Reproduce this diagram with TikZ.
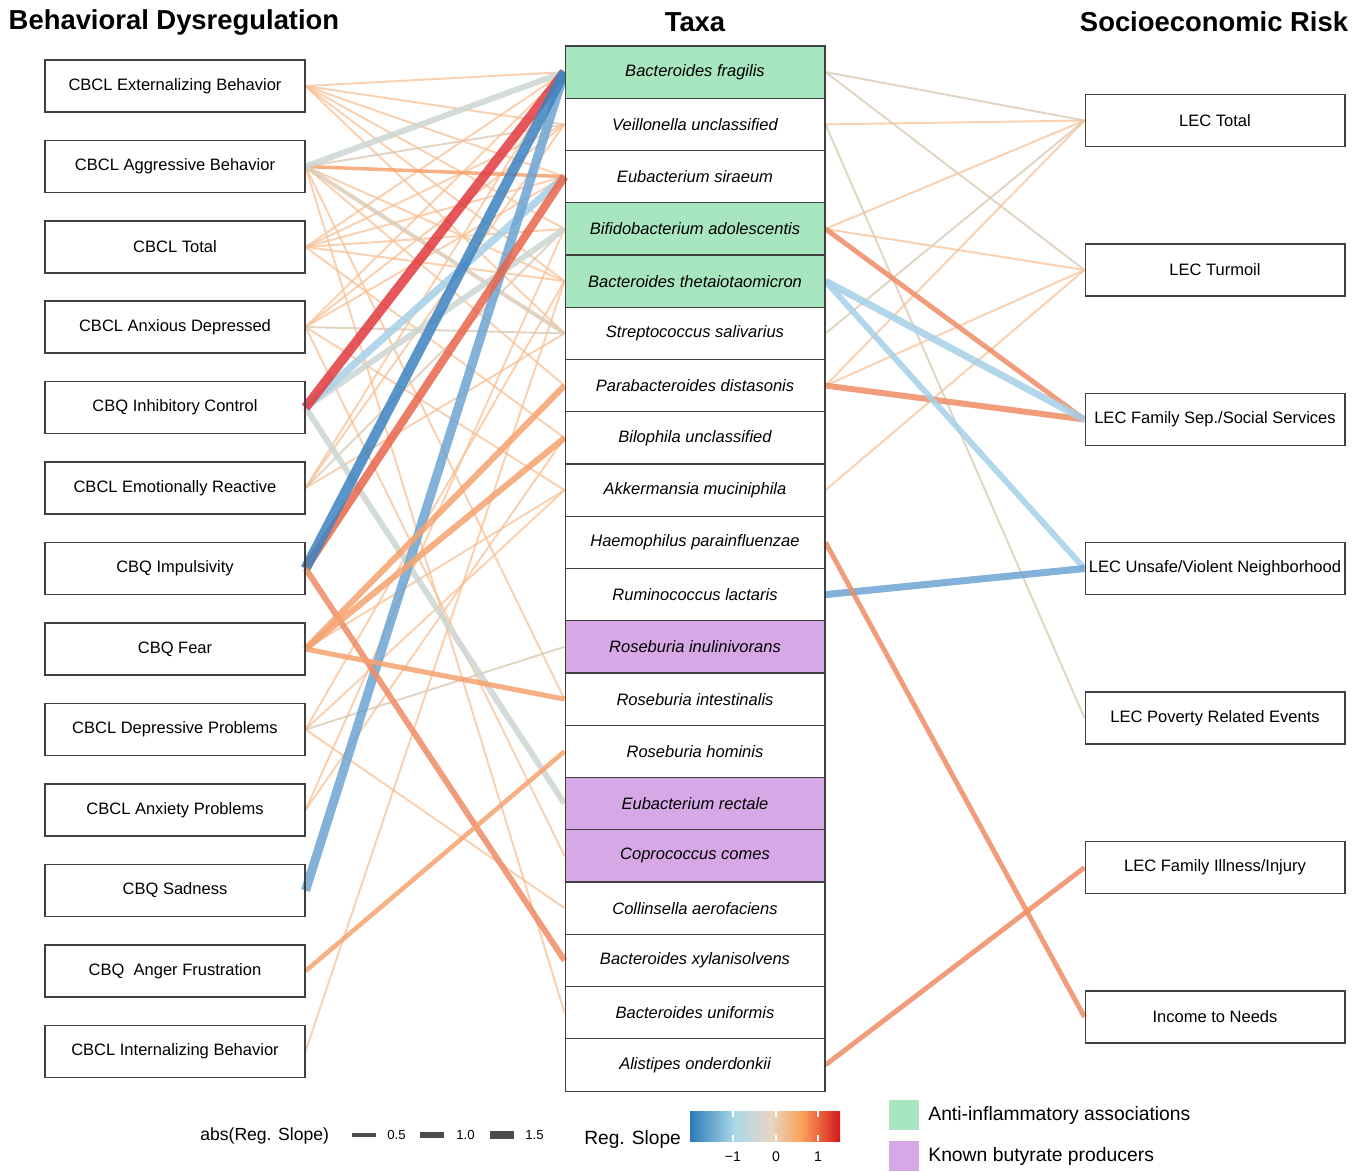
\documentclass[tikz,border=0pt]{standalone}
\usepackage{fontspec}
\setmainfont{Liberation Sans}
\usetikzlibrary{positioning, backgrounds}

\definecolor{redD}{HTML}{E03A3E}
\definecolor{redO}{HTML}{E8654A}
\definecolor{orR}{HTML}{EE8C64}
\definecolor{orM}{HTML}{F5A26E}
\definecolor{orL}{HTML}{F8C094}
\definecolor{tanL}{HTML}{DCCCB8}
\definecolor{grayG}{HTML}{CDD6D2}
\definecolor{blueL}{HTML}{A6D0E6}
\definecolor{blueM}{HTML}{6CA4D2}
\definecolor{blueD}{HTML}{3D82BF}
\definecolor{greenB}{HTML}{A8E6BF}
\definecolor{purpB}{HTML}{D7A8E6}
\definecolor{barB}{HTML}{2C7BB6}
\definecolor{barL}{HTML}{ABD9E9}
\definecolor{barT}{HTML}{E6D6C2}
\definecolor{barO}{HTML}{FAA35C}
\definecolor{barR}{HTML}{D7191C}

\pgfdeclarehorizontalshading{slopebar}{100bp}{color(0bp)=(barB); color(25bp)=(barB);
  color(40bp)=(barL); color(52bp)=(barT); color(62bp)=(barO); color(75bp)=(barR); color(100bp)=(barR)}

\begin{document}
\begin{tikzpicture}[x=0.02cm, y=-0.02cm,
    box/.style={draw=black!75, line width=0.6pt, minimum width=5.2cm, minimum height=1.04cm, inner sep=0pt, font=\fontsize{9.4}{11}\selectfont},
    taxon/.style={box, minimum height=1.045cm, font=\fontsize{9.4}{11}\selectfont\itshape},
    anti/.style={taxon, fill=greenB},
    buty/.style={taxon, fill=purpB},
    heading/.style={font=\fontsize{15.6}{18}\selectfont\bfseries},
    link/.style={opacity=.85},
    weak/.style={link, draw=orL, line width=1.1pt, opacity=.75},
    weaktan/.style={link, draw=tanL, line width=1.1pt, opacity=.85},
    legtext/.style={font=\fontsize{10}{12}\selectfont, anchor=west, inner sep=0pt}]
    \useasboundingbox (0,0) rectangle (1366,1171);

    % headings
    \node[heading] (hbeh) at (174,22) {Behavioral Dysregulation};
    \node[heading] (htax) at (695,22) {Taxa};
    \node[heading] (hses) at (1214,22) {Socioeconomic Risk};

    % behaviour
    \node[box] (lext) at (175,86) {CBCL Externalizing Behavior};
    \node[box] (lagg) at (175,166.5) {CBCL Aggressive Behavior};
    \node[box] (ltot) at (175,247) {CBCL Total};
    \node[box] (lanx) at (175,327) {CBCL Anxious Depressed};
    \node[box] (linh) at (175,407.5) {CBQ Inhibitory Control};
    \node[box] (lemo) at (175,488) {CBCL Emotionally Reactive};
    \node[box] (limp) at (175,568.5) {CBQ Impulsivity};
    \node[box] (lfear) at (175,649) {CBQ Fear};
    \node[box] (ldep) at (175,729.5) {CBCL Depressive Problems};
    \node[box] (lanxp) at (175,810) {CBCL Anxiety Problems};
    \node[box] (lsad) at (175,890.5) {CBQ Sadness};
    \node[box] (lang) at (175,971) {CBQ\ \ Anger Frustration};
    \node[box] (lint) at (175,1051.5) {CBCL Internalizing Behavior};

    % taxa
    \node[anti] (bfrag) at (695,72.1) {Bacteroides fragilis};
    \node[taxon] (veil) at (695,124.4) {Veillonella unclassified};
    \node[taxon] (esir) at (695,176.6) {Eubacterium siraeum};
    \node[anti] (bado) at (695,228.9) {Bifidobacterium adolescentis};
    \node[anti] (bthe) at (695,281.1) {Bacteroides thetaiotaomicron};
    \node[taxon] (ssal) at (695,333.4) {Streptococcus salivarius};
    \node[taxon] (pdis) at (695,385.6) {Parabacteroides distasonis};
    \node[taxon] (bilo) at (695,437.9) {Bilophila unclassified};
    \node[taxon] (amuc) at (695,490.1) {Akkermansia muciniphila};
    \node[taxon] (hpar) at (695,542.4) {Haemophilus parainfluenzae};
    \node[taxon] (rlac) at (695,594.6) {Ruminococcus lactaris};
    \node[buty] (rinu) at (695,646.9) {Roseburia inulinivorans};
    \node[taxon] (rint) at (695,699.1) {Roseburia intestinalis};
    \node[taxon] (rhom) at (695,751.4) {Roseburia hominis};
    \node[buty] (erec) at (695,803.6) {Eubacterium rectale};
    \node[buty] (ccom) at (695,855.9) {Coprococcus comes};
    \node[taxon] (caer) at (695,908.1) {Collinsella aerofaciens};
    \node[taxon] (bxyl) at (695,960.4) {Bacteroides xylanisolvens};
    \node[taxon] (buni) at (695,1012.6) {Bacteroides uniformis};
    \node[taxon] (aond) at (695,1064.9) {Alistipes onderdonkii};

    % socioeconomic risk
    \node[box] (rtot) at (1215,120.5) {LEC Total};
    \node[box] (rtur) at (1215,270) {LEC Turmoil};
    \node[box] (rsep) at (1215,419.5) {LEC Family Sep./Social Services};
    \node[box] (runs) at (1215,568.5) {LEC Unsafe/Violent Neighborhood};
    \node[box] (rpov) at (1215,718) {LEC Poverty Related Events};
    \node[box] (rill) at (1215,867.5) {LEC Family Illness/Injury};
    \node[box] (rinc) at (1215,1017) {Income to Needs};

    \begin{scope}[on background layer]
    % weak links, left
    \draw[weak] (lext.east) -- (bfrag.west);
    \draw[weak] (lext.east) -- (veil.west);
    \draw[weak] (lext.east) -- (esir.west);
    \draw[weak] (lext.east) -- (bado.west);
    \draw[weak] (lext.east) -- (bthe.west);
    \draw[weak] (lext.east) -- (ssal.west);
    \draw[weaktan] (lagg.east) -- (veil.west);
    \draw[weak] (lagg.east) -- (bthe.west);
    \draw[weak] (lagg.east) -- (pdis.west);
    \draw[weak] (lagg.east) -- (buni.west);
    \draw[weak] (lagg.east) -- (rint.west);
    \draw[weak] (ltot.east) -- (bfrag.west);
    \draw[weak] (ltot.east) -- (veil.west);
    \draw[weak] (ltot.east) -- (esir.west);
    \draw[weak] (ltot.east) -- (bado.west);
    \draw[weak] (ltot.east) -- (bthe.west);
    \draw[weak] (ltot.east) -- (bilo.west);
    \draw[weak] (lanx.east) -- (bfrag.west);
    \draw[weak] (lanx.east) -- (veil.west);
    \draw[weak] (lanx.east) -- (esir.west);
    \draw[weaktan] (lanx.east) -- (ssal.west);
    \draw[weak] (lanx.east) -- (amuc.west);
    \draw[weak] (lanx.east) -- (ccom.west);
    \draw[weak] (lemo.east) -- (bfrag.west);
    \draw[weak] (lemo.east) -- (veil.west);
    \draw[weaktan] (lemo.east) -- (bado.west);
    \draw[weak] (lemo.east) -- (ssal.west);
    \draw[weaktan] (ldep.east) -- (rinu.west);
    \draw[weak] (ldep.east) -- (caer.west);
    \draw[weak] (ldep.east) -- (amuc.west);
    \draw[weak] (ldep.east) -- (bthe.west);
    \draw[weak] (lanxp.east) -- (bado.west);
    \draw[weak] (lanxp.east) -- (bilo.west);
    \draw[weak] (lint.east) -- (bthe.west);
    \draw[weak] (lfear.east) -- (amuc.west);

    % strong links, left
    \draw[link, draw=orM, line width=2pt] (lagg.east) -- (esir.west);
    \draw[link, draw=tanL, line width=2.3pt] (lagg.east) -- (ssal.west);
    \draw[link, draw=grayG, line width=3.4pt] (lagg.east) -- (bfrag.west);
    \draw[link, draw=grayG, line width=3.4pt] (linh.east) -- (bado.west);
    \draw[link, draw=grayG, line width=3.4pt] (linh.east) -- (erec.west);
    \draw[link, draw=blueL, line width=4.2pt] (linh.east) -- (esir.west);
    \draw[link, draw=redD, line width=5.4pt] (linh.east) -- (bfrag.west);
    \draw[link, draw=blueM, line width=5.2pt] (lsad.east) -- (bfrag.west);
    \draw[link, draw=redO, line width=4.6pt] (limp.east) -- (esir.west);
    \draw[link, draw=blueD, line width=5.8pt] (limp.east) -- (bfrag.west);
    \draw[link, draw=orR, line width=3.4pt] (limp.east) -- (bxyl.west);
    \draw[link, draw=orM, line width=3.5pt] (lfear.east) -- (pdis.west);
    \draw[link, draw=orM, line width=3.5pt] (lfear.east) -- (bilo.west);
    \draw[link, draw=orM, line width=2.9pt] (lfear.east) -- (rint.west);
    \draw[link, draw=orM, line width=2.6pt] (lang.east) -- (rhom.west);

    % links, right
    \draw[weaktan] (bfrag.east) -- (rtot.west);
    \draw[weaktan] (bfrag.east) -- (rtur.west);
    \draw[weak] (veil.east) -- (rtot.west);
    \draw[weaktan] (veil.east) -- (rpov.west);
    \draw[weak] (bado.east) -- (rtot.west);
    \draw[weak] (bado.east) -- (rtur.west);
    \draw[weaktan] (ssal.east) -- (rtot.west);
    \draw[weak] (pdis.east) -- (rtot.west);
    \draw[weak] (pdis.east) -- (rtur.west);
    \draw[weak] (amuc.east) -- (rtur.west);
    \draw[link, draw=orR, line width=2.8pt] (bado.east) -- (rsep.west);
    \draw[link, draw=orR, line width=3.4pt] (pdis.east) -- (rsep.west);
    \draw[link, draw=blueL, line width=4pt] (bthe.east) -- (rsep.west);
    \draw[link, draw=blueL, line width=3.4pt] (bthe.east) -- (runs.west);
    \draw[link, draw=blueM, line width=4pt] (rlac.east) -- (runs.west);
    \draw[link, draw=orR, line width=2.8pt] (hpar.east) -- (rinc.west);
    \draw[link, draw=orR, line width=2.8pt] (aond.east) -- (rill.west);
    \end{scope}

    % legend
    \node[legtext] (labs) at (200,1136) {abs(Reg. Slope)};
    \draw[black!70, line width=1.8pt] (352,1135) -- (376,1135);
    \node[legtext, font=\fontsize{7.5}{9}\selectfont] (lw1) at (387,1135) {0.5};
    \draw[black!70, line width=3pt] (420,1135) -- (444,1135);
    \node[legtext, font=\fontsize{7.5}{9}\selectfont] (lw2) at (456,1135) {1.0};
    \draw[black!70, line width=4.2pt] (490,1135) -- (514,1135);
    \node[legtext, font=\fontsize{7.5}{9}\selectfont] (lw3) at (525,1135) {1.5};

    \node[legtext, font=\fontsize{10.9}{12}\selectfont] (lslope) at (584,1140) {Reg. Slope};
    \shade[shading=slopebar] (690,1111) rectangle (840,1141);
    \foreach \t in {733,776,818} {
      \draw[white, line width=0.8pt] (\t,1111) -- (\t,1117);
      \draw[white, line width=0.8pt] (\t,1135) -- (\t,1141);
    }
    \node[font=\fontsize{8}{9}\selectfont] (tk1) at (733,1157) {−1};
    \node[font=\fontsize{8}{9}\selectfont] (tk2) at (776,1157) {0};
    \node[font=\fontsize{8}{9}\selectfont] (tk3) at (818,1157) {1};

    \fill[greenB] (889,1100) rectangle (919,1130);
    \fill[purpB] (889,1141) rectangle (919,1171);
    \node[legtext, font=\fontsize{11}{13}\selectfont] (lanti) at (928,1115) {Anti-inflammatory associations};
    \node[legtext, font=\fontsize{11}{13}\selectfont] (lbuty) at (928,1156) {Known butyrate producers};
\end{tikzpicture}
\end{document}
